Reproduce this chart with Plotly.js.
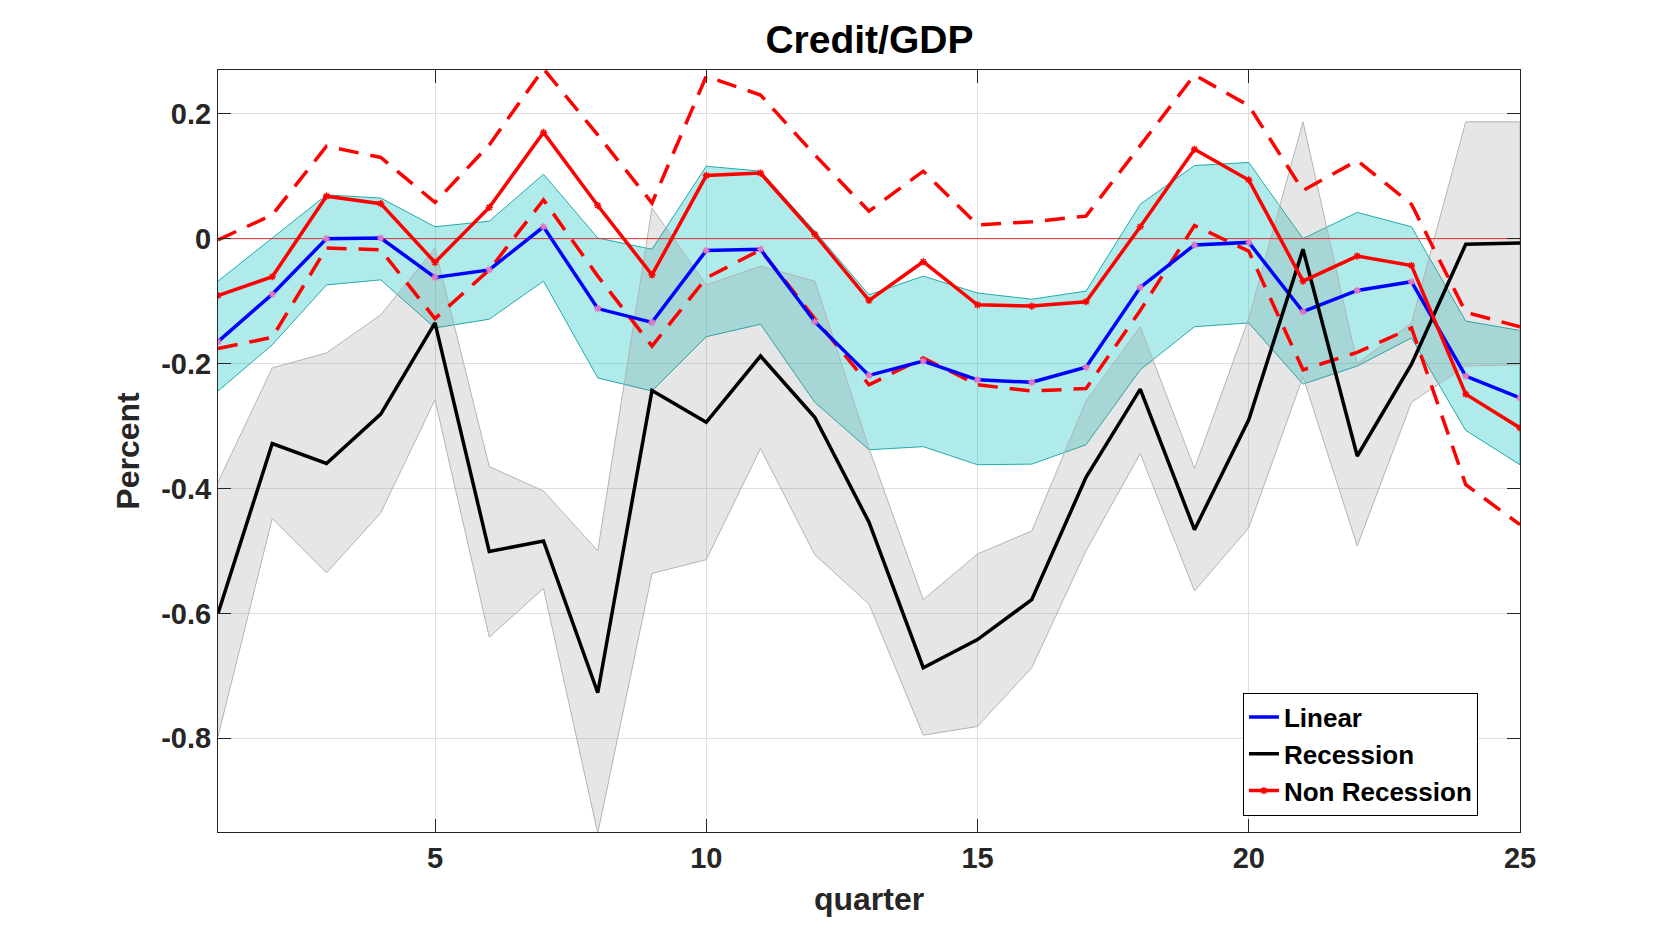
<!DOCTYPE html>
<html>
<head>
<meta charset="utf-8">
<script src="https://cdn.plot.ly/plotly-3.0.1.min.js"></script>
<style>
  html, body { margin: 0; padding: 0; background: #fff; }
  #chart { width: 1680px; height: 933px; }
</style>
</head>
<body>
<div id="chart"></div>
<script>
// quarters after the shock
const quarters = [1, 2, 3, 4, 5, 6, 7, 8, 9, 10, 11, 12, 13, 14, 15, 16, 17, 18, 19, 20, 21, 22, 23, 24, 25];

// linear model response and its band
const linear = [-0.165, -0.089, 0.000, 0.001, -0.062, -0.050, 0.019, -0.112, -0.134, -0.019, -0.017, -0.133, -0.219,
  -0.196, -0.226, -0.230, -0.206, -0.078, -0.010, -0.006, -0.117, -0.083, -0.069, -0.220, -0.255];
const linearUp = [-0.068, 0.001, 0.070, 0.065, 0.019, 0.028, 0.103, 0.001, -0.017, 0.116, 0.108, 0.012, -0.090,
  -0.060, -0.087, -0.097, -0.084, 0.055, 0.117, 0.122, 0.000, 0.042, 0.019, -0.132, -0.147];
const linearLo = [-0.244, -0.170, -0.074, -0.066, -0.143, -0.129, -0.068, -0.223, -0.244, -0.157, -0.137, -0.262, -0.338,
  -0.333, -0.362, -0.361, -0.330, -0.210, -0.141, -0.135, -0.233, -0.204, -0.159, -0.307, -0.362];

// recession state response and its band
const recession = [-0.600, -0.328, -0.360, -0.281, -0.135, -0.501, -0.484, -0.727, -0.243, -0.294, -0.188, -0.286, -0.454,
  -0.687, -0.642, -0.578, -0.382, -0.241, -0.466, -0.290, -0.017, -0.348, -0.201, -0.009, -0.007];
const recessionUp = [-0.390, -0.207, -0.183, -0.122, -0.015, -0.365, -0.404, -0.500, 0.049, -0.074, -0.044, -0.068, -0.336,
  -0.578, -0.505, -0.468, -0.260, -0.141, -0.368, -0.128, 0.187, -0.200, -0.135, 0.187, 0.187];
const recessionLo = [-0.797, -0.448, -0.535, -0.439, -0.258, -0.638, -0.560, -0.952, -0.536, -0.514, -0.336, -0.506, -0.585,
  -0.795, -0.781, -0.687, -0.500, -0.344, -0.564, -0.463, -0.221, -0.492, -0.262, -0.204, -0.202];

// non recession state response and its band (dashed)
const nonRecession = [-0.091, -0.061, 0.068, 0.056, -0.038, 0.050, 0.170, 0.053, -0.058, 0.101, 0.105, 0.007, -0.099,
  -0.037, -0.106, -0.108, -0.101, 0.019, 0.143, 0.094, -0.068, -0.028, -0.043, -0.249, -0.303];
const nonRecessionUp = [-0.002, 0.038, 0.148, 0.130, 0.058, 0.150, 0.272, 0.166, 0.057, 0.260, 0.230, 0.134, 0.044,
  0.108, 0.022, 0.027, 0.036, 0.150, 0.262, 0.213, 0.077, 0.125, 0.055, -0.118, -0.141];
const nonRecessionLo = [-0.176, -0.158, -0.015, -0.018, -0.128, -0.050, 0.062, -0.060, -0.172, -0.063, -0.018, -0.128, -0.234,
  -0.191, -0.234, -0.244, -0.240, -0.115, 0.021, -0.020, -0.210, -0.182, -0.143, -0.394, -0.458];

const zeroLine = [0, 0, 0, 0, 0, 0, 0, 0, 0, 0, 0, 0, 0, 0, 0, 0, 0, 0, 0, 0, 0, 0, 0, 0, 0];

const yTicks = [-0.8, -0.6, -0.4, -0.2, 0, 0.2];
const yTickText = ['-0.8', '-0.6', '-0.4', '-0.2', '0', '0.2'];
const xTicks = [5, 10, 15, 20, 25];

// closed polygon for a band, like matlab fill()
function band(up, lo, fillcolor, edge) {
  return {
    x: quarters.concat(quarters.slice().reverse()),
    y: up.concat(lo.slice().reverse()),
    type: 'scatter', mode: 'lines', fill: 'toself',
    fillcolor: fillcolor, line: {color: edge, width: 1},
    hoverinfo: 'skip', showlegend: false
  };
}

function dashed(ys) {
  return {
    x: quarters, y: ys, type: 'scatter', mode: 'lines',
    line: {color: '#ff0000', width: 3.5, dash: '20px,12px'},
    showlegend: false
  };
}

const font = 'Liberation Sans, Arial, Helvetica, sans-serif';

const data = [
  band(linearUp, linearLo, 'rgba(0,191,191,0.31)', '#22aaaa'),
  band(recessionUp, recessionLo, 'rgba(128,128,128,0.2)', '#b4b4b4'),
  { x: quarters, y: zeroLine, type: 'scatter', mode: 'lines',
    line: {color: '#e03030', width: 1}, showlegend: false, hoverinfo: 'skip' },
  dashed(nonRecessionUp),
  dashed(nonRecessionLo),
  // linear: line in the legend, markers kept out of it
  { x: quarters, y: linear, type: 'scatter', mode: 'lines', name: 'Linear',
    line: {color: '#0000ff', width: 3.5} },
  { x: quarters, y: linear, type: 'scatter', mode: 'markers', showlegend: false,
    marker: {symbol: 'asterisk-open', size: 6, line: {color: '#1a1a40', width: 1.5}} },
  { x: quarters, y: recession, type: 'scatter', mode: 'lines', name: 'Recession',
    line: {color: '#000000', width: 3.5} },
  { x: quarters, y: nonRecession, type: 'scatter', mode: 'lines+markers', name: 'Non Recession',
    line: {color: '#ff0000', width: 3.5},
    marker: {symbol: 'asterisk-open', size: 6, line: {color: '#ff0000', width: 1.5}} }
];

const axisCommon = {
  showline: true, mirror: 'ticks', linecolor: '#262626', linewidth: 1,
  ticks: 'inside', ticklen: 13, tickcolor: '#262626', tickwidth: 1,
  showgrid: true, gridcolor: '#dfdfdf', gridwidth: 1, zeroline: false,
  tickfont: {family: font, size: 29, color: '#262626', weight: 'bold'}
};

const layout = {
  width: 1680, height: 933,
  paper_bgcolor: '#ffffff', plot_bgcolor: '#ffffff',
  margin: {l: 218, r: 160, t: 70, b: 101},
  title: {
    text: 'Credit/GDP', x: 0.5175, xanchor: 'center', y: 0.958, yanchor: 'middle',
    font: {family: font, size: 39, color: '#000000', weight: 'bold'}
  },
  xaxis: Object.assign({}, axisCommon, {
    range: [1, 25], tickvals: xTicks,
    title: {text: 'quarter', standoff: 14, font: {family: font, size: 32, color: '#262626', weight: 'bold'}}
  }),
  yaxis: Object.assign({}, axisCommon, {
    range: [-0.95, 0.27], tickvals: yTicks, ticktext: yTickText,
    title: {text: 'Percent', standoff: 12, font: {family: font, size: 32, color: '#262626', weight: 'bold'}}
  }),
  showlegend: true,
  legend: {
    x: 0.9677, xanchor: 'right', y: 0.183, yanchor: 'top',
    bgcolor: '#ffffff', bordercolor: '#000000', borderwidth: 1,
    font: {family: font, size: 26, color: '#000000', weight: 'bold'},
    tracegroupgap: 0
  }
};

Plotly.newPlot('chart', data, layout, {staticPlot: true});
</script>
</body>
</html>
